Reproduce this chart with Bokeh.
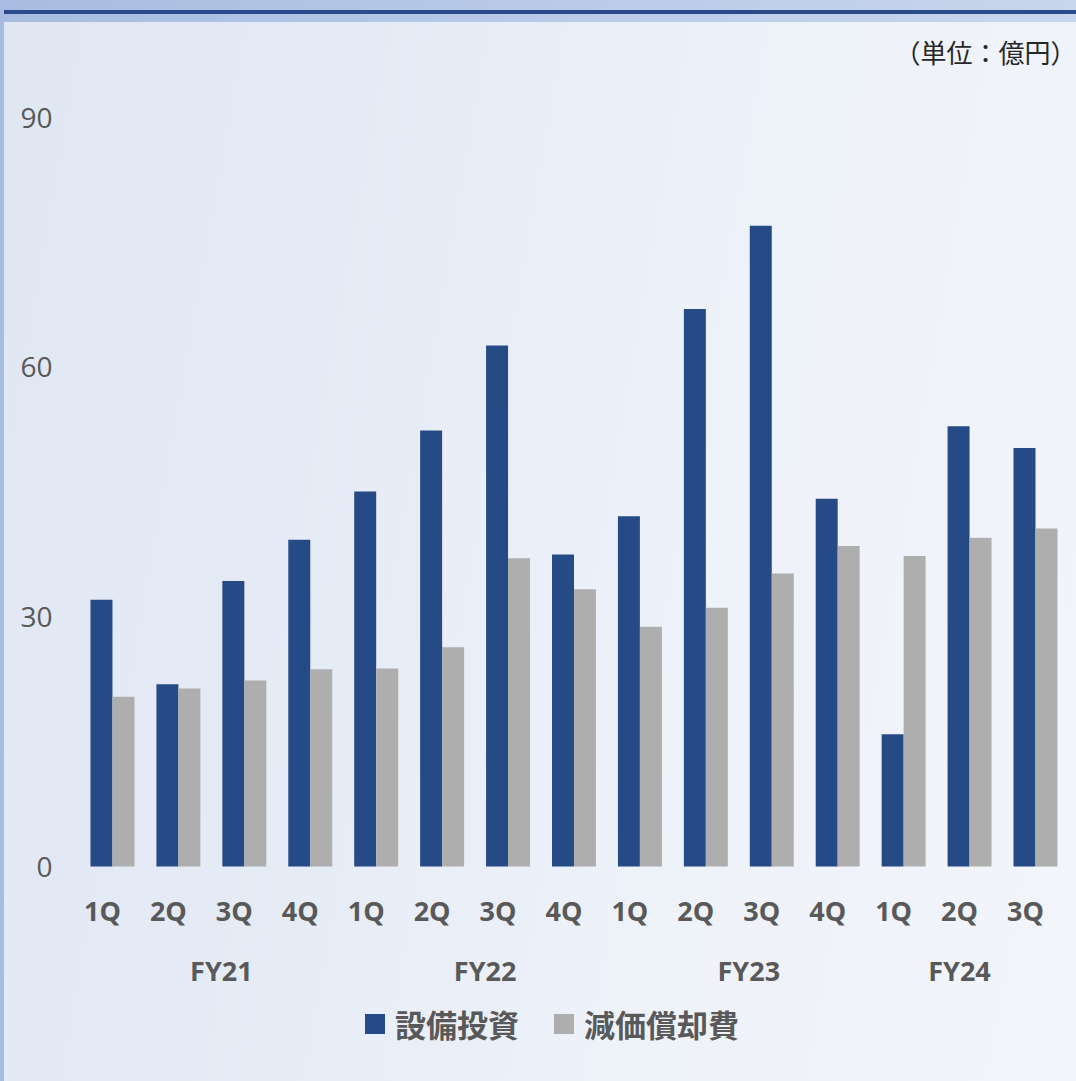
from bokeh.plotting import figure
from bokeh.models import Range1d, FixedTicker, Label, Legend, LegendItem, ColumnDataSource, LinearAxis
from bokeh.embed import file_html
from bokeh.resources import INLINE

# ---- data ----
quarters = ["1Q", "2Q", "3Q", "4Q", "1Q", "2Q", "3Q", "4Q",
            "1Q", "2Q", "3Q", "4Q", "1Q", "2Q", "3Q"]
fiscal_years = ["FY21", "FY22", "FY23", "FY24"]
quarters_per_year = [4, 4, 4, 3]
capex = [32.05, 21.9, 34.3, 39.25, 45.05, 52.4, 62.6, 37.5,
         42.1, 67.0, 77.0, 44.2, 15.9, 52.9, 50.3]
depreciation = [20.4, 21.4, 22.35, 23.7, 23.8, 26.35, 37.05, 33.3,
                28.8, 31.1, 35.2, 38.5, 37.3, 39.5, 40.6]
y_ticks = [0, 30, 60, 90]
series_names = ["設備投資", "減価償却費"]
unit_label = "（単位：億円）"

BLUE = "#264a85"
GRAY = "#aeaeae"
TEXT = "#595959"

W, H = 1076, 1081
LEFT = 79
CAT_PX = 65.93          # pixels per quarter slot
Y0_PX = 866             # pixel row of value 0
UNIT_PX = 8.3222        # pixels per 1 億円

idx = list(range(len(quarters)))
src = ColumnDataSource(dict(
    x_capex=[i - 1/6 for i in idx],
    x_dep=[i + 1/6 for i in idx],
    capex=capex,
    dep=depreciation,
))

x_end = -0.5 + (W - LEFT) / CAT_PX
y_start = -(H - Y0_PX) / UNIT_PX
y_end = Y0_PX / UNIT_PX

p = figure(width=W, height=H, output_backend="svg", toolbar_location=None,
           x_range=Range1d(-0.5, x_end), y_range=Range1d(y_start, y_end),
           min_border=0, min_border_left=LEFT, min_border_right=0,
           min_border_top=0, min_border_bottom=0)
p.border_fill_alpha = 0
p.background_fill_alpha = 0
p.outline_line_color = None
p.styles = {
    "background": (
        "linear-gradient(#a7bce0, #a7bce0) 0 0 / 4px 100% no-repeat, "
        "linear-gradient(to bottom, rgba(0,0,0,0) 0px, rgba(0,0,0,0) 10px, #2a4b8b 10px, #2a4b8b 14px, rgba(0,0,0,0) 14px) 0 0 / 100% 22px no-repeat, "
        "linear-gradient(to right, #a7bce0 0%, #b9cae8 50%, #c8d5ec 100%) 0 0 / 100% 22px no-repeat, "
        "linear-gradient(100deg, #e0e7f3 0%, #e6ecf6 35%, #eef2f9 65%, #f2f5fa 100%)"
    )
}

r1 = p.vbar(x="x_capex", top="capex", width=1/3, source=src,
            fill_color=BLUE, line_color=None)
r2 = p.vbar(x="x_dep", top="dep", width=1/3, source=src,
            fill_color=GRAY, line_color=None)

p.xgrid.visible = False
p.ygrid.visible = False


def style_axis(ax, size, bold):
    ax.axis_line_color = None
    ax.major_tick_line_color = None
    ax.minor_tick_line_color = None
    ax.major_tick_out = 0
    ax.major_tick_in = 0
    ax.major_label_text_font = "Open Sans"
    ax.major_label_text_font_style = "bold" if bold else "normal"
    ax.major_label_text_font_size = size
    ax.major_label_text_color = TEXT


# quarter axis (labels sit slightly left of each slot centre, as in the source)
q_ticks = [round(i - 10 / CAT_PX, 3) for i in idx]
xa = p.xaxis[0]
xa.fixed_location = 0
xa.ticker = FixedTicker(ticks=q_ticks)
xa.major_label_overrides = {t: q for t, q in zip(q_ticks, quarters)}
style_axis(xa, "27px", True)
xa.major_label_standoff = 25

# fiscal-year axis
fy_ticks = []
start = 0
nudges_px = [10, 10, 10, -10]
for n, dx in zip(quarters_per_year, nudges_px):
    fy_ticks.append(round(start + (n - 1) / 2 + dx / CAT_PX, 3))
    start += n
xa2 = LinearAxis(fixed_location=0, ticker=FixedTicker(ticks=fy_ticks),
                 major_label_overrides={t: fy for t, fy in zip(fy_ticks, fiscal_years)})
style_axis(xa2, "27px", True)
xa2.major_label_standoff = 85
p.add_layout(xa2, "below")

# value axis
ya = p.yaxis[0]
ya.ticker = FixedTicker(ticks=y_ticks)
style_axis(ya, "28px", False)
ya.major_label_standoff = 27

# unit label
p.add_layout(Label(x=x_end, y=(Y0_PX - 51) / UNIT_PX, text=unit_label,
                   x_offset=0,
                   text_align="right", text_baseline="middle",
                   text_font="Noto Sans CJK JP", text_font_size="26px",
                   text_color="#262626"))

legend = Legend(items=[LegendItem(label=series_names[0], renderers=[r1]),
                       LegendItem(label=series_names[1], renderers=[r2])],
                orientation="horizontal", location=(283, 35),
                glyph_width=25, glyph_height=25, label_standoff=8, spacing=32,
                padding=0, margin=0, border_line_color=None,
                background_fill_alpha=0,
                label_text_font="Noto Sans CJK JP", label_text_font_style="bold",
                label_text_font_size="31px", label_text_color=TEXT)
p.add_layout(legend, "center")

open("out.html", "w").write(file_html(p, INLINE))
